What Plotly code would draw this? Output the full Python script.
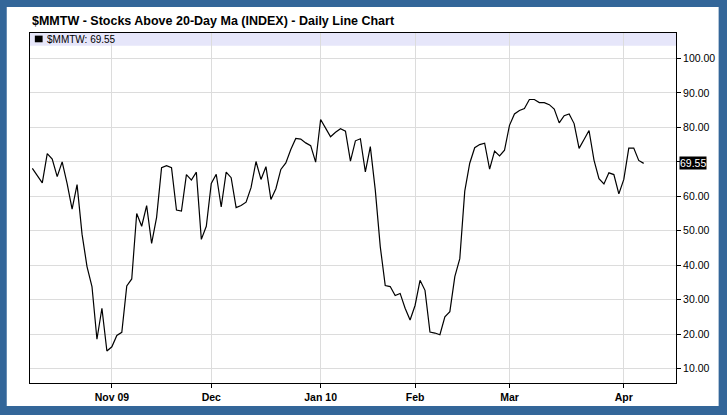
import pandas as pd
import plotly.graph_objects as go

# trading calendar (Oct 9 2009 .. Apr 8 2010), market holidays removed
holidays = ["2009-11-26", "2009-12-25", "2010-01-01", "2010-01-18", "2010-02-15", "2010-04-02"]
dates = [d.strftime("%Y-%m-%d") for d in pd.bdate_range("2009-10-09", "2010-04-08")
         if d.strftime("%Y-%m-%d") not in holidays]

mmtw = [
    68.1, 66.1, 63.9, 72.4, 70.8, 65.7, 70.0, 63.7, 56.3, 63.4, 49.0, 39.6, 33.8, 18.5, 27.5, 15.1,
    16.3, 19.6, 20.5, 34.0, 36.0, 55.0, 51.3, 57.3, 46.3, 53.9, 68.3, 68.9, 68.3, 56.0, 55.7, 66.3,
    64.7, 67.0, 47.5, 51.3, 63.7, 66.4, 56.9, 67.0, 65.4, 56.7, 57.3, 58.3, 62.5, 70.1, 64.9, 68.6,
    59.1, 62.2, 67.8, 69.7, 73.6, 76.8, 76.6, 75.5, 74.7, 69.9, 82.3, 79.8, 77.3, 78.6, 79.6,
    78.9, 70.2, 76.1, 76.7, 67.1, 74.4, 61.8, 45.4, 34.1, 33.8, 31.2, 31.8, 27.5, 24.1, 28.3, 35.6,
    32.7, 20.6, 20.3, 19.8, 25.0, 26.5, 36.7, 41.9, 61.5, 69.6, 74.1, 75.0, 75.4, 67.9, 73.1,
    71.7, 73.4, 80.6, 83.9, 84.9, 85.5, 88.1, 88.1, 87.2, 87.2, 86.6, 85.3, 81.3, 83.4, 83.9, 81.1,
    73.9, 76.5, 79.1, 70.5, 65.1, 63.6, 66.8, 66.3, 60.7, 64.9, 74.0, 74.0, 70.4, 69.55,
]

month_ticks = ["2009-11-02", "2009-12-01", "2010-01-04", "2010-02-01", "2010-03-01", "2010-04-01"]
month_labels = ["Nov 09", "Dec", "Jan 10", "Feb", "Mar", "Apr"]
y_ticks = [10, 20, 30, 40, 50, 60, 70, 80, 90, 100]
last_value = mmtw[-1]

title = "$MMTW - Stocks Above 20-Day Ma (INDEX) - Daily Line Chart"
frame_blue = "#336699"
grid = "#dcdcdc"
font = "Liberation Sans, Arial, sans-serif"

fig = go.Figure()
fig.add_trace(go.Scatter(x=dates, y=mmtw, mode="lines",
                         line=dict(color="black", width=1.2), hoverinfo="skip"))

# y labels: the 70 label is hidden under the last-value box
y_text = ["" if abs(v - last_value) < 5 else f"{v:.2f}" for v in y_ticks]

fig.update_layout(
    width=727, height=415,
    margin=dict(l=30, r=49, t=33, b=32),
    paper_bgcolor=frame_blue,
    plot_bgcolor="rgba(0,0,0,0)",
    showlegend=False,
    font=dict(family=font, color="black"),
    xaxis=dict(
        type="category", range=[-0.47, 129.5],
        tickvals=month_ticks, ticktext=[f"<b>{t}</b>" for t in month_labels],
        tickfont=dict(family="Liberation Sans Narrow, Liberation Sans, Arial", size=10.5, color="black"),
        showgrid=True, gridcolor=grid, gridwidth=1,
        ticks="outside", ticklen=4, tickcolor="black",
        showline=True, linecolor="black", linewidth=1, mirror=True, zeroline=False,
    ),
    yaxis=dict(
        side="right", range=[5.8, 107.4],
        tickvals=y_ticks, ticktext=y_text,
        tickfont=dict(size=10.5, color="black"),
        showgrid=True, gridcolor=grid, gridwidth=1,
        ticks="outside", ticklen=4, tickcolor="black",
        showline=True, linecolor="black", linewidth=1, mirror=True, zeroline=False,
    ),
    shapes=[
        # white panel inside the blue frame
        dict(type="rect", xref="paper", yref="paper", x0=-0.036, x1=1.066, y0=-0.066, y1=1.074,
             fillcolor="white", line=dict(width=0), layer="below"),
        # legend band
        dict(type="rect", xref="paper", yref="paper", x0=0, x1=1, y0=0.9637, y1=1,
             fillcolor="#e6e6fa", line=dict(width=0), layer="below"),
        # legend swatch
        dict(type="rect", xref="paper", yref="paper", x0=0.0075, x1=0.0195, y0=0.9735, y1=0.9925,
             fillcolor="black", line=dict(width=0), layer="above"),
    ],
    annotations=[
        dict(text=f"<b>{title}</b>", xref="paper", yref="paper", x=0, y=1.034,
             xanchor="left", yanchor="middle", showarrow=False,
             font=dict(size=12.5, color="black")),
        dict(text=f"$MMTW: {last_value:.2f}", xref="paper", yref="paper", x=0.0235, y=0.982,
             xanchor="left", yanchor="middle", showarrow=False,
             font=dict(size=10, color="black")),
        dict(text=f"{last_value:.2f}", xref="paper", yref="y", x=1, y=last_value,
             xanchor="left", yanchor="middle", xshift=3, showarrow=False,
             bgcolor="black", borderpad=0, font=dict(size=10.5, color="white")),
    ],
)

fig.write_html("out.html", config={"displayModeBar": False},
               post_script="document.body.style.margin='0';")
